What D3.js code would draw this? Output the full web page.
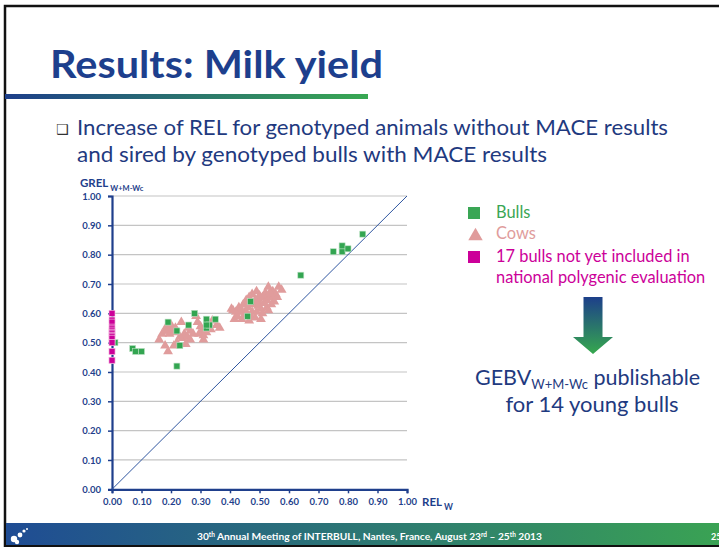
<!DOCTYPE html>
<meta charset="utf-8">
<script src="https://d3js.org/d3.v7.min.js"></script>
<style>
  body { margin: 0; background: #fff; }
  svg { display: block; font-family: Lato, "Open Sans", sans-serif; }
</style>
<body>
<script>
// ---- data ----
var ticks = [0, 0.1, 0.2, 0.3, 0.4, 0.5, 0.6, 0.7, 0.8, 0.9, 1.0];

// green squares: [REL_W, GREL_W+M-Wc]
var bulls = [
  [0.01, 0.50], [0.07, 0.48], [0.08, 0.47], [0.10, 0.47], [0.19, 0.57], [0.22, 0.54],
  [0.22, 0.42], [0.23, 0.49], [0.26, 0.56], [0.28, 0.60], [0.32, 0.58], [0.35, 0.58],
  [0.32, 0.55], [0.33, 0.56], [0.32, 0.56], [0.46, 0.59], [0.47, 0.64], [0.64, 0.73],
  [0.75, 0.81], [0.78, 0.81], [0.78, 0.83], [0.80, 0.82], [0.85, 0.87]
];

// pink triangles
var cows = [
  [0.16, 0.51], [0.17, 0.53], [0.18, 0.54], [0.185, 0.555], [0.19, 0.54], [0.20, 0.56],
  [0.18, 0.49], [0.21, 0.49], [0.19, 0.47], [0.195, 0.53], [0.205, 0.545], [0.215, 0.55],
  [0.235, 0.57], [0.245, 0.53], [0.24, 0.515], [0.255, 0.52], [0.265, 0.54], [0.265, 0.51],
  [0.275, 0.53], [0.285, 0.59], [0.29, 0.57], [0.30, 0.555], [0.305, 0.54], [0.31, 0.51],
  [0.295, 0.53], [0.31, 0.525], [0.33, 0.565], [0.355, 0.56], [0.365, 0.55], [0.335, 0.545],
  [0.22, 0.50], [0.23, 0.52], [0.26, 0.55], [0.32, 0.535], [0.34, 0.575], [0.21, 0.535],
  [0.25, 0.495],
  [0.405, 0.615], [0.41, 0.61], [0.415, 0.58], [0.42, 0.605], [0.43, 0.62], [0.435, 0.605],
  [0.44, 0.58], [0.445, 0.63], [0.455, 0.645], [0.465, 0.655], [0.475, 0.665], [0.49, 0.675],
  [0.495, 0.65], [0.50, 0.635], [0.505, 0.615], [0.51, 0.655], [0.52, 0.66], [0.525, 0.645],
  [0.53, 0.69], [0.535, 0.655], [0.545, 0.675], [0.55, 0.64], [0.565, 0.69], [0.575, 0.68],
  [0.485, 0.585], [0.505, 0.58], [0.475, 0.605], [0.49, 0.605], [0.525, 0.62], [0.54, 0.63],
  [0.48, 0.63], [0.46, 0.62], [0.47, 0.59], [0.455, 0.605], [0.46, 0.63], [0.50, 0.66],
  [0.515, 0.635], [0.53, 0.61], [0.545, 0.655], [0.555, 0.665], [0.495, 0.625], [0.485, 0.645],
  [0.51, 0.60], [0.52, 0.67], [0.47, 0.64], [0.44, 0.61], [0.425, 0.59], [0.56, 0.655],
  [0.535, 0.67], [0.45, 0.595], [0.465, 0.575]
];

// magenta squares, all at REL_W = 0 (17 bulls)
var newBulls = [0.60, 0.577, 0.57, 0.553, 0.547, 0.54, 0.535, 0.53, 0.525, 0.52, 0.515,
  0.50, 0.50, 0.47, 0.47, 0.44, 0.44];

var legendItems = [
  {label: ["Bulls"], color: "#3aa655", shape: "square"},
  {label: ["Cows"], color: "#e09c9c", shape: "triangle"},
  {label: ["17 bulls not yet included in", "national polygenic evaluation"], color: "#cc0099", shape: "square"}
];

// ---- layout ----
var W = 719, H = 547;
var navy = "#1f3f8c";
var textBlue = "#1f3a80";

var svg = d3.select("body").append("svg")
    .attr("width", W)
    .attr("height", H);

var defs = svg.append("defs");
function hGrad(id, c1, c2, vertical) {
  var g = defs.append("linearGradient").attr("id", id)
    .attr("x1", 0).attr("y1", 0).attr("x2", vertical ? 0 : 1).attr("y2", vertical ? 1 : 0);
  g.append("stop").attr("offset", "0%").attr("stop-color", c1);
  g.append("stop").attr("offset", "100%").attr("stop-color", c2);
}
hGrad("bar", "#1d3f8a", "#38a852");
hGrad("foot", "#1f4c94", "#3aa353");
hGrad("arrow", "#1d3f8a", "#36a84e", true);

// slide frame
svg.append("rect").attr("x", 5).attr("y", 6).attr("width", W).attr("height", 540)
  .attr("fill", "none").attr("stroke", "#111").attr("stroke-width", 2.5);

// title
svg.append("text")
  .attr("x", 50).attr("y", 78)
  .attr("font-size", 38).attr("font-weight", 700)
  .attr("fill", "#1d3f8d")
  .attr("textLength", 333).attr("lengthAdjust", "spacingAndGlyphs")
  .text("Results: Milk yield");

svg.append("rect").attr("x", 5).attr("y", 94).attr("width", 363).attr("height", 5)
  .attr("fill", "url(#bar)");

// bullet
svg.append("text").attr("x", 56).attr("y", 134)
  .attr("font-family", "DejaVu Sans").attr("font-size", 14).attr("fill", "#333")
  .text("\u2751");
svg.append("text").attr("x", 77).attr("y", 135)
  .attr("font-size", 22).attr("fill", textBlue)
  .attr("textLength", 591).attr("lengthAdjust", "spacingAndGlyphs")
  .text("Increase of REL for genotyped animals without MACE results");
svg.append("text").attr("x", 77).attr("y", 162)
  .attr("font-size", 22).attr("fill", textBlue)
  .attr("textLength", 470).attr("lengthAdjust", "spacingAndGlyphs")
  .text("and sired by genotyped bulls with MACE results");

// ---- chart ----
var x = d3.scaleLinear().domain([0, 1]).range([112, 407]);
var y = d3.scaleLinear().domain([0, 1]).range([489.3, 196]);

var chart = svg.append("g");

chart.append("g")
  .selectAll("line")
  .data(ticks.filter(d => d > 0))
  .join("line")
    .attr("x1", x(0)).attr("x2", x(1))
    .attr("y1", d => y(d)).attr("y2", d => y(d))
    .attr("stroke", "#c4c4c4").attr("stroke-width", 1.2);

var fmt = d3.format(".2f");

var yAxis = chart.append("g")
  .attr("transform", `translate(${x(0)},0)`)
  .call(d3.axisLeft(y).tickValues(ticks).tickFormat(fmt).tickSize(4).tickPadding(7));
var xAxis = chart.append("g")
  .attr("transform", `translate(0,${y(0)})`)
  .call(d3.axisBottom(x).tickValues(ticks).tickFormat(fmt).tickSize(4).tickPadding(5));

[xAxis, yAxis].forEach(a => {
  a.select(".domain").attr("stroke", navy).attr("stroke-width", 2.2);
  a.selectAll(".tick line").attr("stroke", navy).attr("stroke-width", 1.5);
  a.selectAll(".tick text")
    .attr("fill", navy).attr("font-size", 9.5).attr("font-weight", 700)
    .attr("font-family", "Lato, sans-serif");
});

// 1:1 line
chart.append("line")
  .attr("x1", x(0)).attr("y1", y(0)).attr("x2", x(1)).attr("y2", y(1))
  .attr("stroke", "#2f56a0").attr("stroke-width", 1);

// cows
chart.append("g")
  .selectAll("path")
  .data(cows)
  .join("path")
    .attr("transform", d => `translate(${x(d[0])},${y(d[1])})`)
    .attr("d", d3.symbol(d3.symbolTriangle, 42))
    .attr("fill", "#e09c9c");

// bulls
var sq = 6;
chart.append("g")
  .selectAll("rect")
  .data(bulls)
  .join("rect")
    .attr("x", d => x(d[0]) - sq / 2)
    .attr("y", d => y(d[1]) - sq / 2)
    .attr("width", sq).attr("height", sq)
    .attr("fill", "#33a551")
    .attr("stroke", "#b9e0c2").attr("stroke-width", 0.6);

// bulls not yet in national evaluation
chart.append("g")
  .selectAll("rect")
  .data(newBulls)
  .join("rect")
    .attr("x", x(0) - sq / 2)
    .attr("y", d => y(d) - sq / 2)
    .attr("width", sq).attr("height", sq)
    .attr("fill", "#cc0099")
    .attr("stroke", "#f3c4e4").attr("stroke-width", 0.6);

// axis titles
var yt = chart.append("text").attr("x", 80).attr("y", 187)
  .attr("fill", navy).attr("font-weight", 700);
yt.append("tspan").attr("font-size", 11.5).text("GREL");
yt.append("tspan").attr("font-size", 7.5).attr("dx", 2).attr("dy", 3.5).text("W+M-Wc");

var xt = chart.append("text").attr("x", 422).attr("y", 506)
  .attr("fill", navy).attr("font-weight", 700);
xt.append("tspan").attr("font-size", 11.5).text("REL");
xt.append("tspan").attr("font-size", 8.5).attr("dx", 2).attr("dy", 4).text("W");

// ---- legend ----
var legend = svg.append("g").attr("transform", "translate(468,207)");
var rows = [0, 21, 44];
legendItems.forEach((item, i) => {
  var g = legend.append("g").attr("transform", `translate(0,${rows[i]})`);
  if (item.shape === "square") {
    g.append("rect").attr("width", 12).attr("height", 12).attr("fill", item.color);
  } else {
    g.append("path").attr("transform", "translate(7.5,8)")
      .attr("d", d3.symbol(d3.symbolTriangle, 90)).attr("fill", item.color);
  }
  item.label.forEach((t, j) => {
    g.append("text").attr("x", 28).attr("y", 11 + j * 21)
      .attr("font-size", 16.4).attr("fill", item.color)
      .text(t);
  });
});

// arrow
var ax = 593;
svg.append("path")
  .attr("d", `M${ax - 9.5},297 H${ax + 9.5} V337 H${ax + 20} L${ax},354 L${ax - 20},337 H${ax - 9.5} Z`)
  .attr("fill", "url(#arrow)");

var gebv = svg.append("text").attr("x", 475).attr("y", 385)
  .attr("font-size", 21.5).attr("fill", textBlue);
gebv.append("tspan").text("GEBV");
gebv.append("tspan").attr("font-size", 13).attr("dy", 4).text("W+M-Wc");
gebv.append("tspan").attr("dy", -4).text(" publishable");
svg.append("text").attr("x", 592).attr("y", 412)
  .attr("text-anchor", "middle")
  .attr("font-size", 22).attr("fill", textBlue)
  .text("for 14 young bulls");

// ---- footer ----
svg.append("rect").attr("x", 6).attr("y", 523).attr("width", W).attr("height", 22)
  .attr("fill", "url(#foot)");

var logo = svg.append("g").attr("fill", "#fff");
[[14, 539, 3.2], [20, 535, 2.4], [17, 542, 2.2], [24, 531, 1.6], [27, 529, 1]].forEach(c => {
  logo.append("circle").attr("cx", c[0]).attr("cy", c[1]).attr("r", c[2]);
});

var ft = svg.append("text").attr("x", 197).attr("y", 540)
  .attr("font-size", 10.2).attr("font-weight", 700).attr("fill", "#fff");
ft.append("tspan").text("30");
ft.append("tspan").attr("font-size", 6.5).attr("dy", -3.5).text("th");
ft.append("tspan").attr("dy", 3.5).text(" Annual Meeting of INTERBULL, Nantes, France,  August 23");
ft.append("tspan").attr("font-size", 6.5).attr("dy", -3.5).text("rd");
ft.append("tspan").attr("dy", 3.5).text(" \u2013 25");
ft.append("tspan").attr("font-size", 6.5).attr("dy", -3.5).text("th");
ft.append("tspan").attr("dy", 3.5).text("  2013");

svg.append("text").attr("x", 711).attr("y", 540)
  .attr("font-size", 9).attr("font-weight", 700).attr("fill", "#fff")
  .text("25");
</script>
</body>
